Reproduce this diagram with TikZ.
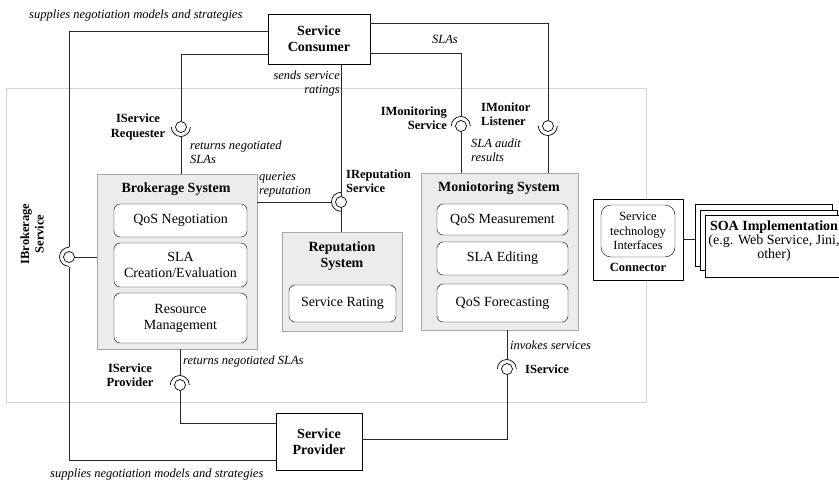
\documentclass[tikz,border=0pt]{standalone}
\usepackage{fontspec}
\setmainfont{Liberation Serif}
\usepackage{tikz}

\tikzset{
  sys/.style={draw=gray!70, fill=gray!15, line width=0.8pt},
  part/.style={draw, rounded corners=6pt, fill=white, align=center, inner sep=0pt,
    font=\fontsize{14}{16}\selectfont},
  comp/.style={draw, fill=white, align=center, inner sep=0pt,
    font=\fontsize{14}{16}\selectfont\bfseries},
  title/.style={align=center, inner sep=0pt, font=\fontsize{14}{16}\selectfont\bfseries},
  ball/.style={circle, draw, fill=white, line width=0.7pt, minimum size=11pt, inner sep=0pt},
  sock/.style={circle, minimum size=19pt, inner sep=0pt},
  arcs/.style={line width=0.7pt},
  iname/.style={inner sep=0pt, font=\fontsize{12.5}{14.5}\selectfont\bfseries},
  note/.style={inner sep=0pt, align=left, font=\fontsize{12.5}{14}\selectfont\itshape},
  wire/.style={draw=black!85, line width=0.7pt},
}

\begin{document}
\begin{tikzpicture}[x=1pt, y=-1pt]
 \useasboundingbox (0,0) rectangle (839,482);
 \draw[gray!35, line width=1pt] (6,88) rectangle (646,402);

 % consumer and provider
 \node[comp, minimum width=102pt, minimum height=50pt] (cons) at (319,39) {Service\\Consumer};
 \node[comp, minimum width=86pt, minimum height=57pt] (prov) at (319,441.5) {Service\\Provider};

 % brokerage system
 \node[sys, minimum width=160pt, minimum height=175pt] (brok) at (177,261.5) {};
 \node[title] (brokT) at (176,189) {Brokerage System};
 \node[part, minimum width=133pt, minimum height=33pt] (qneg) at (180.5,220.5) {QoS Negotiation};
 \node[part, minimum width=133pt, minimum height=44pt] (slac) at (180.5,265) {SLA\\Creation/Evaluation};
 \node[part, minimum width=133pt, minimum height=50pt] (resm) at (180.5,318) {Resource\\Management};

 % reputation system
 \node[sys, minimum width=120pt, minimum height=99pt] (rep) at (342,281.5) {};
 \node[title] (repT) at (342,256) {Reputation\\System};
 \node[part, minimum width=107pt, minimum height=37pt] (srat) at (342.5,303.5) {Service Rating};

 % monitoring system
 \node[sys, minimum width=157pt, minimum height=157pt] (mon) at (499.5,251.5) {};
 \node[title] (monT) at (499,188) {Moniotoring System};
 \node[part, minimum width=131pt, minimum height=31pt] (qmea) at (502.5,219.5) {QoS Measurement};
 \node[part, minimum width=131pt, minimum height=33pt] (slae) at (502.5,258.5) {SLA Editing};
 \node[part, minimum width=131pt, minimum height=38pt] (qfor) at (502.5,303) {QoS Forecasting};

 % connector and SOA
 \node[draw, fill=white, minimum width=90pt, minimum height=81pt] (conn) at (638,239.5) {};
 \node[part, rounded corners=10pt, minimum width=74pt, minimum height=52pt,
       font=\fontsize{12.5}{14.5}\selectfont] (stif) at (638,231) {Service\\technology\\Interfaces};
 \node[iname] (connT) at (638,267) {Connector};
 \node[draw, fill=white, minimum width=137pt, minimum height=62pt] (soa1) at (763.5,235) {};
 \node[draw, fill=white, minimum width=137pt, minimum height=60pt] (soa2) at (768.5,240) {};
 \node[part, rounded corners=0pt, minimum width=140pt, minimum height=62pt] (soa3) at (775,246) {};
 \node[align=center, inner sep=0pt, font=\fontsize{14}{14}\selectfont] (soaT) at (774,241)
   {\textbf{SOA Implementation}\\(e.g. Web Service, Jini,\\other)};

 % interfaces
 \node[sock] (ibrokS) at (69,257) {};
 \node[ball] (ibrok) at (69,257) {};
 \draw[arcs] (ibrokS.north) arc[start angle=90, end angle=270, radius=9.5pt];
 \node[sock] (ireqS) at (181,127) {};
 \node[ball] (ireq) at (181,127) {};
 \draw[arcs] (ireqS.west) arc[start angle=180, end angle=360, radius=9.5pt];
 \node[sock] (irepS) at (341,202) {};
 \node[ball] (irep) at (341,202) {};
 \draw[arcs] (irepS.north) arc[start angle=90, end angle=270, radius=9.5pt];
 \node[sock] (imonS) at (461,126) {};
 \node[ball] (imon) at (461,126) {};
 \draw[arcs] (imonS.west) arc[start angle=180, end angle=0, radius=9.5pt];
 \node[sock] (ilisS) at (548,126) {};
 \node[ball] (ilis) at (548,126) {};
 \draw[arcs] (ilisS.west) arc[start angle=180, end angle=360, radius=9.5pt];
 \node[sock] (iprovS) at (180,385) {};
 \node[ball] (iprov) at (180,385) {};
 \draw[arcs] (iprovS.west) arc[start angle=180, end angle=0, radius=9.5pt];
 \node[sock] (iservS) at (507,369) {};
 \node[ball] (iserv) at (507,369) {};
 \draw[arcs] (iservS.west) arc[start angle=180, end angle=0, radius=9.5pt];

 % wires
 \draw[wire] ([yshift=8pt]cons.west) -| (ibrokS.north);
 \draw[wire] (ibrokS.south) |- ([yshift=-18.5pt]prov.west);
 \draw[wire] (ibrok.east) -- (ibrok.east -| brok.west);
 \draw[wire] ([yshift=-15pt]cons.west) -| (ireq.north);
 \draw[wire] (ireqS.south) -- (ireqS.south |- brok.north);
 \draw[wire] ([xshift=22pt]cons.south) -- (irep.north);
 \draw[wire] (irep.south) -- (irep.south |- rep.north);
 \draw[wire] (irepS.west) -- (irepS.west -| brok.east);
 \draw[wire] ([yshift=16pt]cons.east) -| (ilis.north);
 \draw[wire] (ilisS.south) -- (ilisS.south |- mon.north);
 \draw[wire] ([yshift=-14pt]cons.east) -| (imonS.north);
 \draw[wire] (imon.south) -- (imon.south |- mon.north);
 \draw[wire] (iprovS.north |- brok.south) -- (iprovS.north);
 \draw[wire] (iprov.south) |- ([yshift=18.5pt]prov.west);
 \draw[wire] (iservS.north |- mon.south) -- (iservS.north);
 \draw[wire] (iserv.south) |- ([yshift=2.5pt]prov.east);
 \draw[wire] (conn.east) -- (conn.east -| soa1.west);

 % labels
 \node[note, anchor=west] (supT) at (29,15) {supplies negotiation models and strategies};
 \node[note, anchor=west] (supB) at (50,474) {supplies negotiation models and strategies};
 \node[note, align=right, anchor=east] (sends) at (340,83) {sends service\\ratings};
 \node[note] (slas) at (445,39) {SLAs};
 \node[note, anchor=west] (retA) at (190,152) {returns negotiated\\SLAs};
 \node[note, anchor=west] (query) at (259,185) {queries\\reputation};
 \node[note, anchor=west] (audit) at (471,150) {SLA audit\\results};
 \node[note, anchor=west] (retB) at (183,361) {returns negotiated SLAs};
 \node[note, anchor=west] (invk) at (510,345) {invokes services};
 \node[iname, align=center] (lreq) at (138,127) {IService\\Requester};
 \node[iname, align=left, anchor=west] (lrep) at (346,181) {IReputation\\Service};
 \node[iname, align=right, anchor=east] (lmon) at (447,118) {IMonitoring\\Service};
 \node[iname, align=left, anchor=west] (llis) at (481,114) {IMonitor\\Listener};
 \node[iname, align=center, rotate=90] (lbrok) at (32,234) {IBrokerage\\Service};
 \node[iname, align=center] (lprov) at (130,375) {IService\\Provider};
 \node[iname, anchor=west] (lserv) at (525,369) {IService};
\end{tikzpicture}
\end{document}
